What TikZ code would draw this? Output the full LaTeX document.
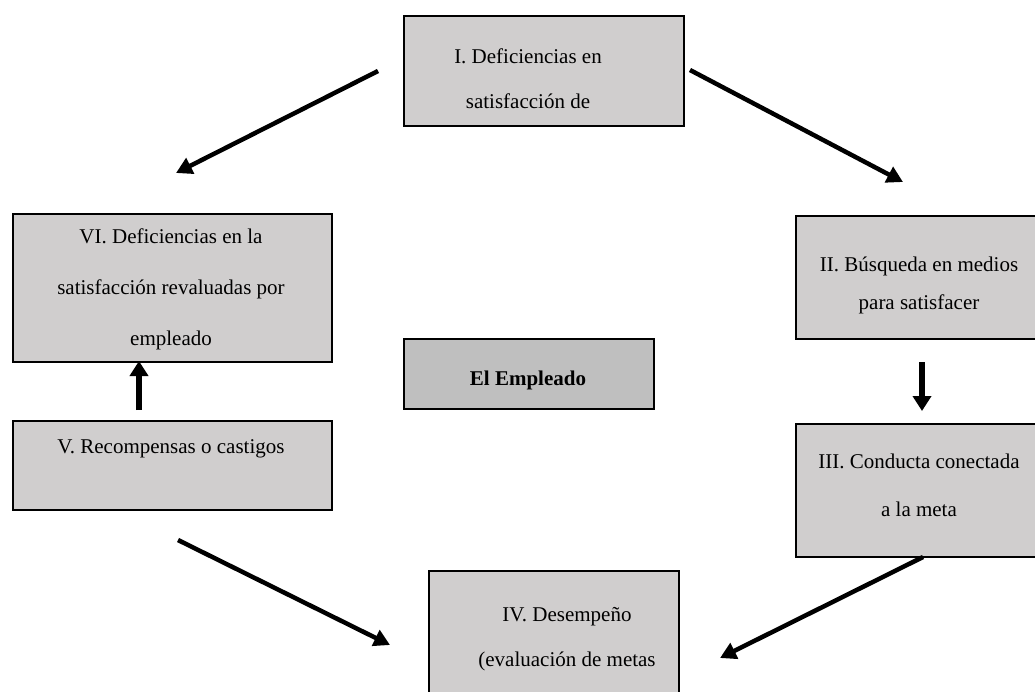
\documentclass[tikz,border=0pt]{standalone}
\usepackage{fontspec}
\setmainfont{Liberation Serif}
\usetikzlibrary{arrows.meta}
\definecolor{boxgray}{HTML}{D0CECE}
\definecolor{centergray}{HTML}{BFBFBF}
\tikzset{
  stagebox/.style={draw=black, line width=2pt, fill=boxgray, inner sep=0pt, anchor=north west},
  centerbox/.style={draw=black, line width=2pt, fill=centergray, inner sep=0pt, anchor=north west},
  lbl/.style={inner sep=0pt, anchor=base},
  arr/.style={line width=4.5pt, -{Triangle[length=16pt,width=17pt]}},
  varr/.style={line width=5.5pt, -{Triangle[length=15pt,width=18pt]}}
}
\newcommand\lines[3]{\parbox[t]{#1}{\centering\fontsize{21}{#2}\selectfont #3}}
\begin{document}
\begin{tikzpicture}[x=1pt,y=-1pt]
\useasboundingbox (0,0) rectangle (1035,691);
% boxes
\node[stagebox, minimum width=280pt, minimum height=110pt] (b1) at (403,15) {};
\node[stagebox, minimum width=248pt, minimum height=123pt] (b2) at (795,215) {};
\node[stagebox, minimum width=248pt, minimum height=133pt] (b3) at (795,423) {};
\node[stagebox, minimum width=250pt, minimum height=150pt] (b4) at (428,570) {};
\node[stagebox, minimum width=319pt, minimum height=89pt] (b5) at (12,420) {};
\node[stagebox, minimum width=319pt, minimum height=148pt] (b6) at (12,213) {};
\node[centerbox, minimum width=250pt, minimum height=70pt] (b0) at (403,338) {};
% texts
\node[lbl] (t1) at (528,63) {\lines{270pt}{45}{I. Deficiencias en\\satisfacción de}};
\node[lbl] (t2) at (919,271) {\lines{240pt}{38}{II. Búsqueda en medios\\para satisfacer}};
\node[lbl] (t3) at (919,468) {\lines{240pt}{48}{III. Conducta conectada\\a la meta}};
\node[lbl] (t4) at (567,621) {\lines{240pt}{45}{IV. Desempeño\\(evaluación de metas}};
\node[lbl] (t5) at (171,453) {\lines{310pt}{45}{V. Recompensas o castigos}};
\node[lbl] (t6) at (171,243) {\lines{310pt}{51}{VI. Deficiencias en la\\satisfacción revaluadas por\\empleado}};
\node[lbl] (t0) at (528,385) {\lines{240pt}{25}{\bfseries El Empleado}};
% arrow end points
\coordinate (a1s) at (378,71);  \coordinate (a1e) at (176,173);
\coordinate (a2s) at (690,70);  \coordinate (a2e) at (903,182);
\coordinate (a3s) at (922,362); \coordinate (a3e) at (922,411);
\coordinate (a4s) at (923,557); \coordinate (a4e) at (720,658);
\coordinate (a5s) at (178,540); \coordinate (a5e) at (390,645);
\coordinate (a6s) at (139,410); \coordinate (a6e) at (139,361);
\draw[arr] (a1s) -- (a1e);
\draw[arr] (a2s) -- (a2e);
\draw[varr] (a3s) -- (a3e);
\draw[arr] (a4s) -- (a4e);
\draw[arr] (a5s) -- (a5e);
\draw[varr] (a6s) -- (a6e);
\end{tikzpicture}
\end{document}
